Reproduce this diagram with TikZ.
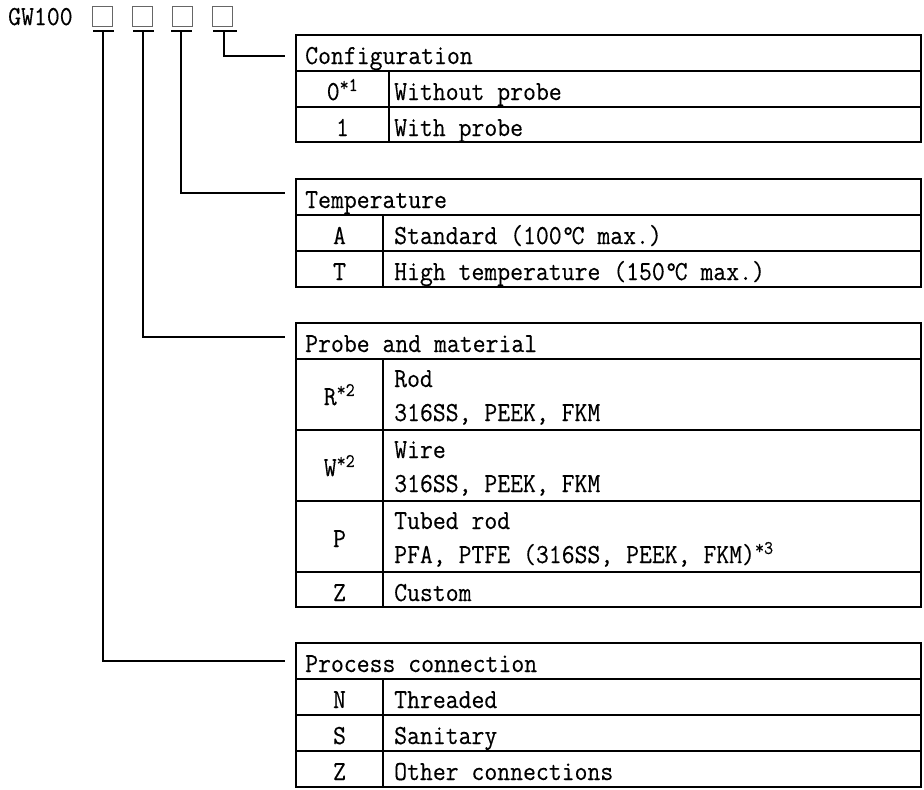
\documentclass[tikz,border=0pt]{standalone}
\usepackage{fontspec}
\newfontfamily\tblfont[FakeStretch=0.91, FakeBold=0.3]{Latin Modern Mono}
\tikzset{
  tbl/.style={line width=1.8pt, line cap=rect},
  conn/.style={line width=1.5pt},
  uline/.style={line width=2pt},
  txt/.style={font=\fontsize{27.5}{32}\tblfont, inner sep=0pt, anchor=base west},
  codetxt/.style={font=\fontsize{27.5}{32}\tblfont, inner sep=0pt, anchor=base},
  codebox/.style={draw=black!60, line width=1pt, minimum size=19.5pt, inner sep=0pt}
}
\begin{document}
\begin{tikzpicture}[x=1pt,y=-1pt]
\useasboundingbox[fill=white] (0,0) rectangle (924,790);

% model code
\node[txt] (gw) at (8,25) {GW100};
\node[codebox] (b1) at (102.5,16.5) {};
\node[codebox] (b2) at (142.5,16.5) {};
\node[codebox] (b3) at (182.5,16.5) {};
\node[codebox] (b4) at (222.5,16.5) {};
\coordinate (u1) at (103,31);
\coordinate (u2) at (143,31);
\coordinate (u3) at (181,31);
\coordinate (u4) at (224,31);
\draw[uline] (93,31) -- (114,31);
\draw[uline] (133,31) -- (154,31);
\draw[uline] (171,31) -- (192,31);
\draw[uline] (213,31) -- (237,31);

% connector ends
\coordinate (e4) at (285,56);
\coordinate (e3) at (285,193);
\coordinate (e2) at (285,337);
\coordinate (e1) at (285,661);
\draw[conn] (u4) |- (e4);
\draw[conn] (u3) |- (e3);
\draw[conn] (u2) |- (e2);
\draw[conn] (u1) |- (e1);

% Configuration table
\draw[tbl] (296,35) rectangle (921,142);
\draw[tbl] (296,71) -- (921,71);
\draw[tbl] (296,107) -- (921,107);
\draw[tbl] (389,71) -- (389,142);
\node[txt] (cfgT) at (305,64) {Configuration};
\node[codetxt] (c0) at (342.5,100) {0\textsuperscript{*1}};
\node[txt] (c0d) at (394,100) {Without probe};
\node[codetxt] (c1) at (342.5,136) {1};
\node[txt] (c1d) at (394,136) {With probe};

% Temperature table
\draw[tbl] (296,179) rectangle (921,287);
\draw[tbl] (296,215) -- (921,215);
\draw[tbl] (296,251) -- (921,251);
\draw[tbl] (383,215) -- (383,287);
\node[txt] (tmpT) at (305,208) {Temperature};
\node[codetxt] (tA) at (339.5,244) {A};
\node[txt] (tAd) at (394,244) {Standard (100°\kern-3pt C max.)};
\node[codetxt] (tT) at (339.5,280) {T};
\node[txt] (tTd) at (394,280) {High temperature (150°\kern-3pt C max.)};

% Probe and material table
\draw[tbl] (296,323) rectangle (921,607);
\draw[tbl] (296,359) -- (921,359);
\draw[tbl] (296,430) -- (921,430);
\draw[tbl] (296,501) -- (921,501);
\draw[tbl] (296,572) -- (921,572);
\draw[tbl] (383,359) -- (383,607);
\node[txt] (prT) at (305,352) {Probe and material};
\node[codetxt] (pR) at (339.5,405) {R\textsuperscript{*2}};
\node[txt] (pR1) at (394,387) {Rod};
\node[txt] (pR2) at (394,421) {316SS, PEEK, FKM};
\node[codetxt] (pW) at (339.5,476) {W\textsuperscript{*2}};
\node[txt] (pW1) at (394,458) {Wire};
\node[txt] (pW2) at (394,492) {316SS, PEEK, FKM};
\node[codetxt] (pP) at (339.5,547) {P};
\node[txt] (pP1) at (394,529) {Tubed rod};
\node[txt] (pP2) at (394,563) {PFA, PTFE (316SS, PEEK, FKM)\textsuperscript{*3}};
\node[codetxt] (pZ) at (339.5,601) {Z};
\node[txt] (pZd) at (394,601) {Custom};

% Process connection table
\draw[tbl] (296,643) rectangle (921,787);
\draw[tbl] (296,679) -- (921,679);
\draw[tbl] (296,715) -- (921,715);
\draw[tbl] (296,751) -- (921,751);
\draw[tbl] (383,679) -- (383,787);
\node[txt] (pcT) at (305,672) {Process connection};
\node[codetxt] (kN) at (339.5,708) {N};
\node[txt] (kNd) at (394,708) {Threaded};
\node[codetxt] (kS) at (339.5,744) {S};
\node[txt] (kSd) at (394,744) {Sanitary};
\node[codetxt] (kZ) at (339.5,780) {Z};
\node[txt] (kZd) at (394,780) {Other connections};
\end{tikzpicture}
\end{document}
